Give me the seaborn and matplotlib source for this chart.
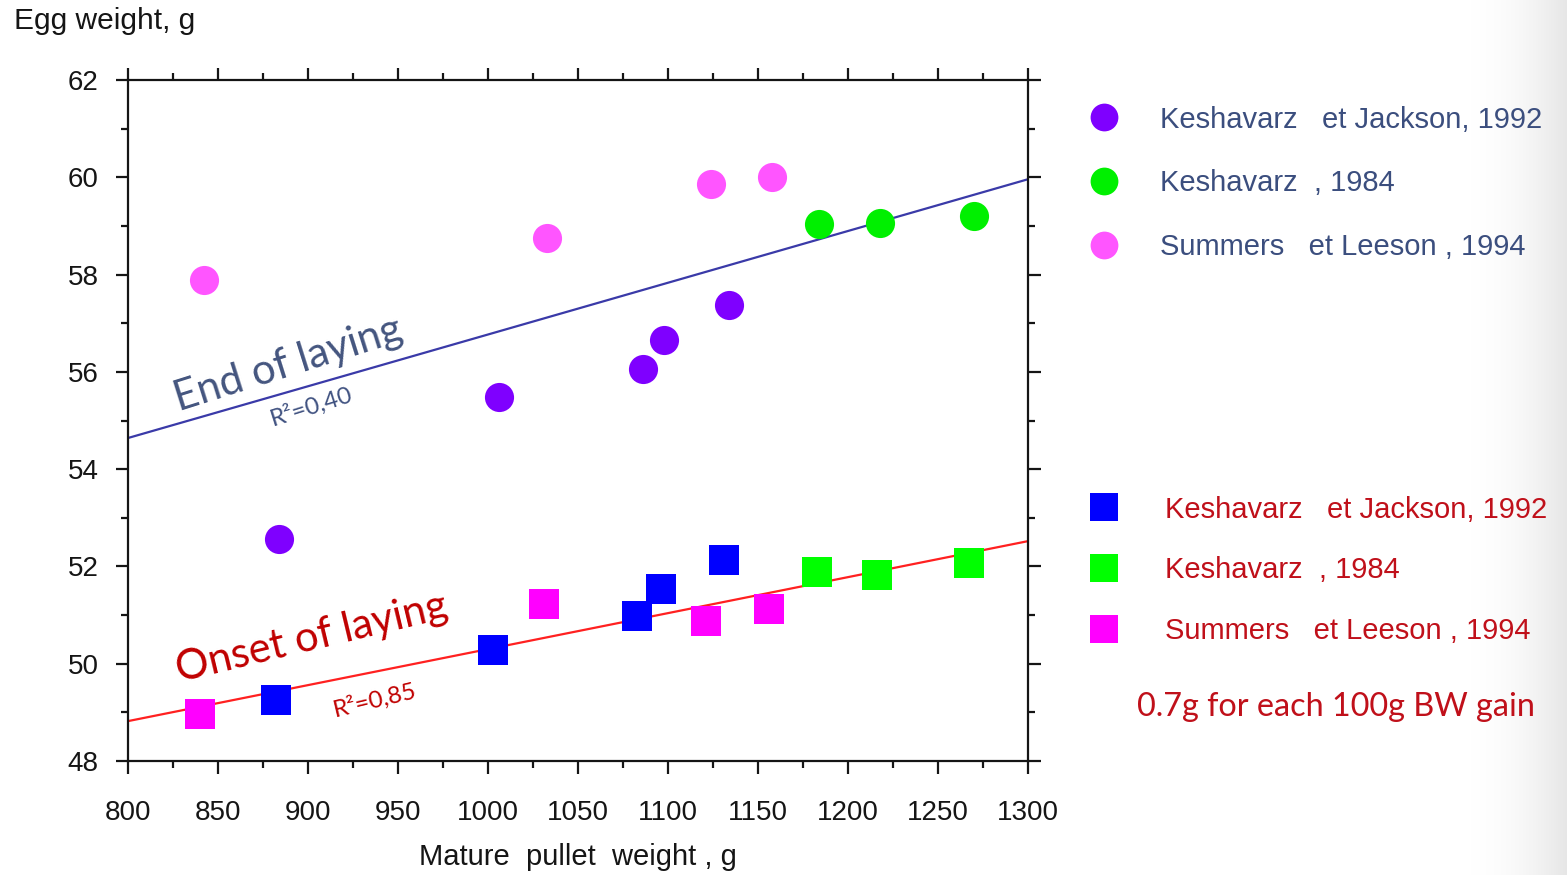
import numpy as np
import pandas as pd
import matplotlib
matplotlib.use("Agg")
import matplotlib.pyplot as plt
from matplotlib.lines import Line2D
from matplotlib.ticker import MultipleLocator
import seaborn as sns

# ---------------- data ----------------
# End of laying (circles)
kj92_end_x = [884, 1006, 1086, 1098, 1134]
kj92_end_y = [52.56, 55.48, 56.06, 56.65, 57.37]
k84_end_x = [1184, 1218, 1270]
k84_end_y = [59.04, 59.06, 59.20]
sl94_end_x = [842, 1033, 1124, 1158]
sl94_end_y = [57.89, 58.75, 59.86, 60.00]

# Onset of laying (squares)
kj92_on_x = [882, 1003, 1083, 1096, 1131]
kj92_on_y = [49.25, 50.28, 50.98, 51.54, 52.13]
k84_on_x = [1183, 1216, 1267]
k84_on_y = [51.89, 51.82, 52.07]
sl94_on_x = [840, 1031, 1121, 1156]
sl94_on_y = [48.97, 51.23, 50.88, 51.12]

# Regression lines (end points)
fit_x = [800, 1300]
end_fit_y = [54.64, 59.96]
onset_fit_y = [48.82, 52.52]

series_labels = ["Keshavarz   et Jackson, 1992", "Keshavarz  , 1984", "Summers   et Leeson , 1994"]
x_ticks = [800, 850, 900, 950, 1000, 1050, 1100, 1150, 1200, 1250, 1300]
y_ticks = [48, 50, 52, 54, 56, 58, 60, 62]

# ---------------- style ----------------
sns.set_theme(style="white")
plt.rcParams["font.family"] = ["Liberation Sans", "DejaVu Sans"]

circle_colors = ["#7F00FF", "#00F000", "#FF55FF"]
square_colors = ["#0000FF", "#00FF00", "#FF00FF"]
blue_text = "#3B4E7E"
red_text = "#C0101A"
dark = "#151515"

fig = plt.figure(figsize=(15.67, 8.75), dpi=100)
fig.patch.set_facecolor("white")

# subtle slide shading on the right edge
bg = fig.add_axes([0.935, 0, 0.065, 1], zorder=-5)
grad = np.linspace(0, 1, 200) ** 2
bg.imshow(np.tile(grad, (10, 1)), aspect="auto",
          cmap=matplotlib.colors.LinearSegmentedColormap.from_list("g", ["#ffffff", "#e6e6e6"]),
          extent=[0, 1, 0, 1])
bg.axis("off")

ax = fig.add_axes([128 / 1567, 1 - 761 / 875, 900 / 1567, 681 / 875])
ax.set_facecolor("white")

# fit lines
sns.lineplot(x=fit_x, y=end_fit_y, ax=ax, color="#3A3AA8", linewidth=1.6, zorder=2)
sns.lineplot(x=fit_x, y=onset_fit_y, ax=ax, color="#FF2020", linewidth=1.6, zorder=2)

end_sets = [(kj92_end_x, kj92_end_y), (k84_end_x, k84_end_y), (sl94_end_x, sl94_end_y)]
on_sets = [(kj92_on_x, kj92_on_y), (k84_on_x, k84_on_y), (sl94_on_x, sl94_on_y)]
for (xs, ys), c in zip(end_sets, circle_colors):
    sns.scatterplot(x=xs, y=ys, ax=ax, color=c, marker="o", s=440, linewidth=0, zorder=3)
for (xs, ys), c in zip(on_sets, square_colors):
    sns.scatterplot(x=xs, y=ys, ax=ax, color=c, marker="s", s=480, linewidth=0, zorder=3)

ax.set_xlim(800, 1300)
ax.set_ylim(48, 62)
ax.set_xticks(x_ticks)
ax.set_yticks(y_ticks)
ax.xaxis.set_minor_locator(MultipleLocator(25))
ax.yaxis.set_minor_locator(MultipleLocator(1))
for s in ax.spines.values():
    s.set_visible(True)
    s.set_color(dark)
    s.set_linewidth(1.6)
ax.tick_params(which="both", direction="out", top=True, right=True, bottom=True, left=True,
               color=dark, width=1.6)
ax.tick_params(which="major", length=9)
ax.tick_params(which="minor", length=5)
ax.tick_params(axis="x", which="major", labelsize=20, pad=19, labelcolor=dark)
ax.tick_params(axis="y", which="major", labelsize=20, pad=12, labelcolor=dark)
ax.grid(False)
ax.set_xlabel("Mature  pullet  weight , g", fontsize=21, color=dark, labelpad=12)
ax.set_ylabel("")

fig.text(14 / 1567, 1 - 21 / 875, "Egg weight, g", fontsize=21.5, color=dark, ha="left", va="center")

# annotations
ax.text(889, 56.15, "End of laying", fontsize=30, color="#44557F", rotation=17.5,
        ha="center", va="center", family=["Lato", "DejaVu Sans"], rotation_mode="anchor")
ax.text(902, 55.28, "R²=0,40", fontsize=17.5, color="#3F5180", rotation=17.5,
        ha="center", va="center", family=["Lato", "DejaVu Sans"], rotation_mode="anchor")
ax.text(902, 50.53, "Onset of laying", fontsize=30, color="#C00000", rotation=13.5,
        ha="center", va="center", family=["Lato", "DejaVu Sans"], rotation_mode="anchor")
ax.text(937, 49.25, "R²=0,85", fontsize=17.5, color="#C00000", rotation=13.5,
        ha="center", va="center", family=["Lato", "DejaVu Sans"], rotation_mode="anchor")

# legends
circ_handles = [Line2D([], [], marker="o", linestyle="none", markersize=20, markerfacecolor=c,
                       markeredgewidth=0) for c in circle_colors]
sq_handles = [Line2D([], [], marker="s", linestyle="none", markersize=20, markerfacecolor=c,
                     markeredgewidth=0) for c in square_colors]
leg1 = fig.legend(circ_handles, series_labels, loc="upper left",
                  bbox_to_anchor=(1089.5 / 1567, 1 - 105.5 / 875),
                  frameon=False, fontsize=21, handlelength=1.0, handletextpad=1.42, labelspacing=1.23,
                  borderpad=0, borderaxespad=0)
for t in leg1.get_texts():
    t.set_color(blue_text)
leg2 = fig.legend(sq_handles, series_labels, loc="upper left",
                  bbox_to_anchor=(1089.5 / 1567, 1 - 495.5 / 875),
                  frameon=False, fontsize=21, handlelength=1.0, handletextpad=1.59, labelspacing=1.12,
                  borderpad=0, borderaxespad=0)
for t in leg2.get_texts():
    t.set_color(red_text)

fig.text(1336 / 1567, 1 - 707 / 875, "0.7g for each 100g BW gain", fontsize=23.3, color=red_text,
         ha="center", va="center", family=["Lato", "DejaVu Sans"])

fig.savefig("out.png", dpi=100, facecolor="white")
